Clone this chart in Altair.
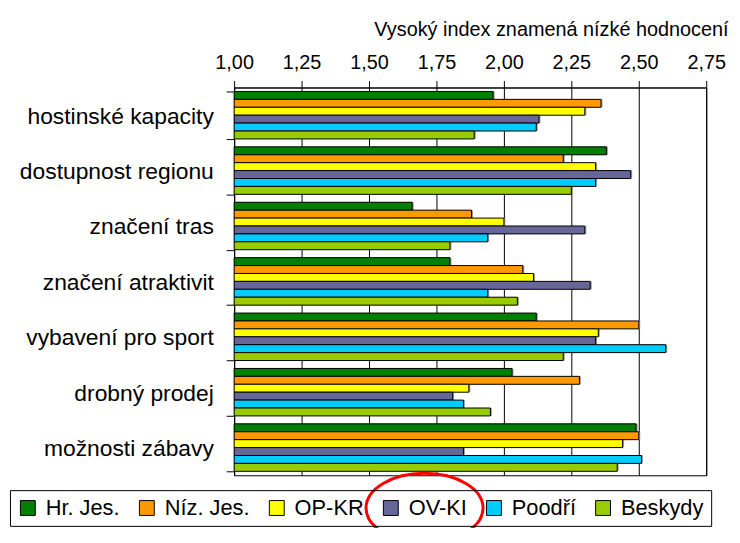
import altair as alt
import pandas as pd

categories = ["hostinské kapacity", "dostupnost regionu", "značení tras",
              "značení atraktivit", "vybavení pro sport", "drobný prodej",
              "možnosti zábavy"]
series = ["Hr. Jes.", "Níz. Jes.", "OP-KR", "OV-KI", "Poodří", "Beskydy"]
colors = ["#008000", "#FF9900", "#FFFF00", "#666699", "#00CCFF", "#99CC00"]

hr_jes = [1.96, 2.38, 1.66, 1.80, 2.12, 2.03, 2.49]
niz_jes = [2.36, 2.22, 1.88, 2.07, 2.50, 2.28, 2.50]
op_kr = [2.30, 2.34, 2.00, 2.11, 2.35, 1.87, 2.44]
ov_ki = [2.13, 2.47, 2.30, 2.32, 2.34, 1.81, 1.85]
poodri = [2.12, 2.34, 1.94, 1.94, 2.60, 1.85, 2.51]
beskydy = [1.89, 2.25, 1.80, 2.05, 2.22, 1.95, 2.42]

x_ticks = [1.00, 1.25, 1.50, 1.75, 2.00, 2.25, 2.50, 2.75]
axis_title = "Vysoký index znamená nízké hodnocení"

FONT = "Liberation Sans"

values = [hr_jes, niz_jes, op_kr, ov_ki, poodri, beskydy]
rows = []
for s, vals in zip(series, values):
    for c, v in zip(categories, vals):
        rows.append({"category": c, "series": s, "value": v})
df = pd.DataFrame(rows)

y_enc = alt.Y(
    "category:N", sort=categories,
    scale=alt.Scale(paddingInner=0.143, paddingOuter=0.0716),
    axis=alt.Axis(title=None, orient="left", tickBand="extent", tickSize=8,
                  labelPadding=13, labelFontSize=23, labelFont=FONT,
                  labelColor="black", labelBaseline="alphabetic",
                  labelOffset=8, labelLimit=400, domainColor="black",
                  tickColor="black", grid=False),
)
yoff_enc = alt.YOffset("series:N", sort=series,
                       scale=alt.Scale(paddingInner=0, paddingOuter=0))
x_enc = alt.X(
    "value:Q",
    scale=alt.Scale(domain=[1, 2.75], nice=False, zero=False),
    axis=alt.Axis(orient="top", values=x_ticks,
                  labelExpr="replace(format(datum.value, '.2f'), '.', ',')",
                  title=axis_title, titleX=498, titleY=-52,
                  titleAlign="right", titleBaseline="alphabetic",
                  titleFontSize=20, titleFont=FONT, titleFontWeight="normal",
                  titleColor="black",
                  tickSize=7, labelPadding=12, labelBaseline="alphabetic",
                  labelFontSize=20, labelFont=FONT, labelColor="black",
                  labelFlush=False, labelOverlap=False,
                  grid=True, gridColor="black", gridWidth=1,
                  domainColor="black", tickColor="black"),
)
color_enc = alt.Color(
    "series:N", sort=series,
    scale=alt.Scale(domain=series, range=colors),
    legend=alt.Legend(orient="none", legendX=-226, legendY=406,
                      direction="horizontal", title=None,
                      symbolType="square", symbolSize=225,
                      symbolStrokeColor="black", symbolStrokeWidth=1,
                      labelFontSize=22, labelFont=FONT, labelColor="black",
                      labelOffset=7, columnPadding=16, padding=7,
                      strokeColor="black"),
)

shadow = alt.Chart(df).mark_bar(color="#9a9a9a", xOffset=1.5, x2Offset=1.5).encode(
    y=y_enc, yOffset=yoff_enc, x=x_enc, x2=alt.datum(1.0)
)

bars = alt.Chart(df).mark_bar(stroke="black", strokeWidth=1).encode(
    y=y_enc, yOffset=yoff_enc, x=x_enc, x2=alt.datum(1.0), color=color_enc
)

ellipse_path = "M -1 0 A 1 0.593 0 1 0 1 0 A 1 0.593 0 1 0 -1 0 Z"
note = alt.Chart(pd.DataFrame({"note": ["OV-KI"]})).mark_point(
    shape=ellipse_path, size=118 * 118, filled=False, stroke="#ff0000",
    strokeWidth=3, opacity=1
).encode(x=alt.value(192), y=alt.value(424))

chart = alt.layer(shadow, bars, note).properties(
    width=476, height=391,
    autosize=alt.AutoSizeParams(type="none"),
    padding={"left": 228, "top": 78, "right": 26, "bottom": 51},
    background="white",
).configure_view(stroke="black", strokeWidth=1)

chart.save("out.html", embed_options={"renderer": "svg", "actions": False})
